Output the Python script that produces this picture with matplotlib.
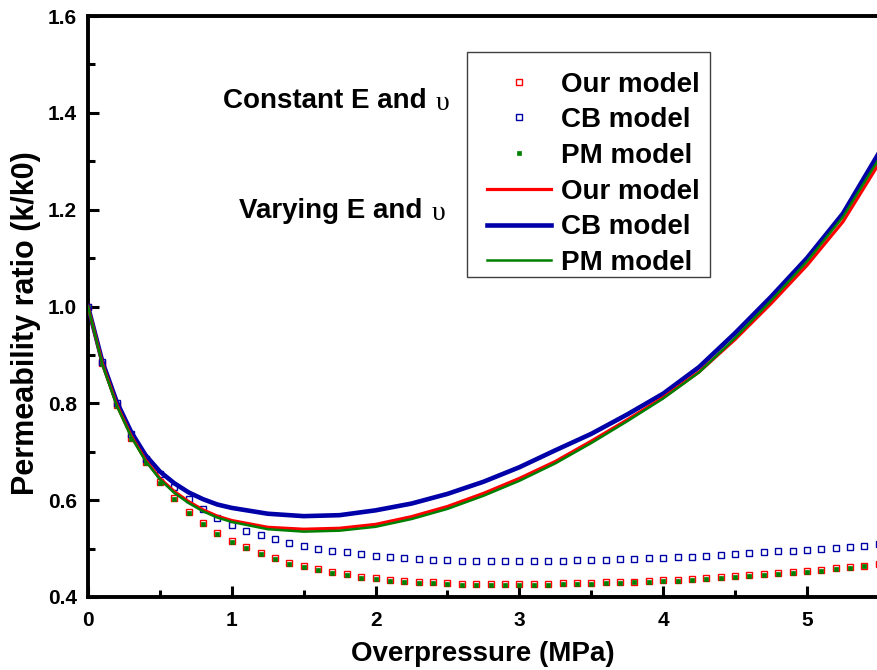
import matplotlib
matplotlib.use("Agg")
import matplotlib.pyplot as plt
from matplotlib.patches import Rectangle
from matplotlib.ticker import MultipleLocator

plt.rcParams['font.family'] = ['Liberation Sans', 'DejaVu Sans']
plt.rcParams['font.weight'] = 'bold'

# Overpressure grid (MPa) for the constant-parameter model points
x_pts = [round(0.1 * i, 1) for i in range(56)]

our_const = [1.000, 0.883, 0.797, 0.729, 0.678, 0.637, 0.604, 0.575, 0.552, 0.533,
             0.516, 0.503, 0.490, 0.480, 0.471, 0.464, 0.457, 0.452, 0.448, 0.442,
             0.439, 0.435, 0.433, 0.431, 0.430, 0.428, 0.427, 0.427, 0.426, 0.426,
             0.426, 0.427, 0.427, 0.428, 0.428, 0.429, 0.430, 0.431, 0.432, 0.433,
             0.435, 0.436, 0.437, 0.439, 0.441, 0.443, 0.445, 0.447, 0.449, 0.451,
             0.454, 0.456, 0.459, 0.462, 0.465, 0.468]

cb_const = [1.000, 0.885, 0.800, 0.736, 0.686, 0.655, 0.627, 0.602, 0.581, 0.563,
            0.549, 0.537, 0.528, 0.519, 0.512, 0.506, 0.500, 0.495, 0.492, 0.488,
            0.485, 0.482, 0.480, 0.478, 0.477, 0.476, 0.475, 0.475, 0.474, 0.474,
            0.474, 0.474, 0.475, 0.475, 0.476, 0.476, 0.477, 0.478, 0.479, 0.480,
            0.481, 0.482, 0.483, 0.485, 0.486, 0.488, 0.490, 0.492, 0.494, 0.496,
            0.498, 0.500, 0.502, 0.504, 0.506, 0.509]

pm_const = [0.999, 0.881, 0.795, 0.727, 0.676, 0.635, 0.602, 0.573, 0.550, 0.531,
            0.514, 0.501, 0.488, 0.478, 0.469, 0.462, 0.455, 0.450, 0.446, 0.440,
            0.437, 0.433, 0.431, 0.429, 0.428, 0.426, 0.425, 0.425, 0.424, 0.424,
            0.424, 0.425, 0.425, 0.426, 0.426, 0.427, 0.428, 0.429, 0.430, 0.431,
            0.433, 0.434, 0.435, 0.437, 0.439, 0.441, 0.443, 0.445, 0.447, 0.449,
            0.452, 0.454, 0.457, 0.460, 0.463, 0.466]

# Overpressure grid (MPa) for the varying-parameter curves
x_curve = [0.0, 0.1, 0.2, 0.3, 0.4, 0.5, 0.6, 0.7, 0.8, 0.9, 1.0, 1.25, 1.5, 1.75,
           2.0, 2.25, 2.5, 2.75, 3.0, 3.25, 3.5, 3.75, 4.0, 4.25, 4.5, 4.75, 5.0,
           5.25, 5.5]

our_vary = [1.000, 0.882, 0.797, 0.733, 0.683, 0.645, 0.618, 0.597, 0.580, 0.567,
            0.558, 0.544, 0.540, 0.542, 0.550, 0.566, 0.587, 0.614, 0.645, 0.680,
            0.722, 0.766, 0.812, 0.865, 0.932, 1.006, 1.085, 1.175, 1.295]

cb_vary = [1.000, 0.886, 0.803, 0.741, 0.693, 0.659, 0.635, 0.616, 0.602, 0.591,
           0.584, 0.572, 0.567, 0.569, 0.579, 0.593, 0.613, 0.638, 0.668, 0.703,
           0.737, 0.777, 0.820, 0.875, 0.945, 1.020, 1.100, 1.192, 1.317]

pm_vary = [1.000, 0.880, 0.795, 0.731, 0.681, 0.643, 0.615, 0.594, 0.577, 0.564,
           0.555, 0.540, 0.535, 0.537, 0.545, 0.561, 0.582, 0.609, 0.640, 0.676,
           0.718, 0.763, 0.810, 0.864, 0.935, 1.012, 1.093, 1.185, 1.305]

RED = '#FF0000'
BLUE = '#0000A8'
GREEN = '#008000'

W, H = 877, 670
fig = plt.figure(figsize=(W / 100, H / 100), dpi=100)
ax = fig.add_axes([88 / W, 73 / H, 789 / W, 581 / H])

ax.plot(x_pts, our_const, ls='none', marker='s', ms=5.0, mfc='white', mec=RED,
        mew=1.0, label='Our model', zorder=3)
ax.plot(x_pts, cb_const, ls='none', marker='s', ms=5.0, mfc='white', mec=BLUE,
        mew=1.0, label='CB model', zorder=3)
ax.plot(x_pts, pm_const, ls='none', marker='s', ms=3.2, mfc=GREEN, mec=GREEN,
        mew=0.5, label='PM model', zorder=4)

ax.plot(x_curve, our_vary, color=RED, lw=2.3, label='Our model', zorder=5)
ax.plot(x_curve, cb_vary, color=BLUE, lw=3.3, label='CB model', zorder=4)
ax.plot(x_curve, pm_vary, color=GREEN, lw=1.8, label='PM model', zorder=6)

ax.set_xlim(0, 5.487)
ax.set_ylim(0.4, 1.6)
ax.xaxis.set_major_locator(MultipleLocator(1))
ax.xaxis.set_minor_locator(MultipleLocator(0.5))
ax.yaxis.set_major_locator(MultipleLocator(0.2))
ax.yaxis.set_minor_locator(MultipleLocator(0.1))
ax.tick_params(which='both', direction='in', width=2.2, labelsize=15,
               top=False, right=False)
ax.tick_params(axis='x', pad=10)
ax.tick_params(axis='y', pad=8)
ax.tick_params(which='major', length=8)
ax.tick_params(which='minor', length=5)
for lab in ax.get_xticklabels() + ax.get_yticklabels():
    lab.set_fontweight('bold')
ax.spines['right'].set_visible(False)
for side in ('left', 'bottom', 'top'):
    ax.spines[side].set_linewidth(2.8)

ax.set_xlabel('Overpressure (MPa)', fontsize=20, fontweight='bold')
ax.set_ylabel('Permeability ratio (k/k0)', fontsize=22, fontweight='bold')
ax.xaxis.set_label_coords(0.5, -0.075)
ax.yaxis.set_label_coords(-0.060, 0.4716)

# Legend box drawn as a plain white rectangle, entries placed inside it
box = Rectangle((467 / W, 1 - 277 / H), 243 / W, 225 / H, transform=fig.transFigure,
                facecolor='white', edgecolor='#404040', linewidth=1.0, zorder=10,
                clip_on=False)
ax.add_patch(box)
leg = ax.legend(loc='upper left', bbox_to_anchor=((487 - 88) / 789, (597 - 71.5) / 581),
                borderaxespad=0, fontsize=20, frameon=False,
                handlelength=2.3, handletextpad=0.38, labelspacing=0.35,
                borderpad=0, numpoints=1)
leg.set_zorder(11)
for t in leg.get_texts():
    t.set_fontweight('bold')

# Annotation labels: sans-serif words followed by a serif upsilon
fig.text(427 / W, 1 - 101 / H, 'Constant E and',
         ha='right', va='center', fontsize=20, fontweight='bold')
fig.text(436 / W, 1 - 103 / H, 'υ', family=['Liberation Serif'],
         ha='left', va='center', fontsize=20, fontweight='normal')
fig.text(422 / W, 1 - 211 / H, 'Varying E and',
         ha='right', va='center', fontsize=20, fontweight='bold')
fig.text(432 / W, 1 - 213 / H, 'υ', family=['Liberation Serif'],
         ha='left', va='center', fontsize=20, fontweight='normal')

fig.savefig('out.png', dpi=100)
